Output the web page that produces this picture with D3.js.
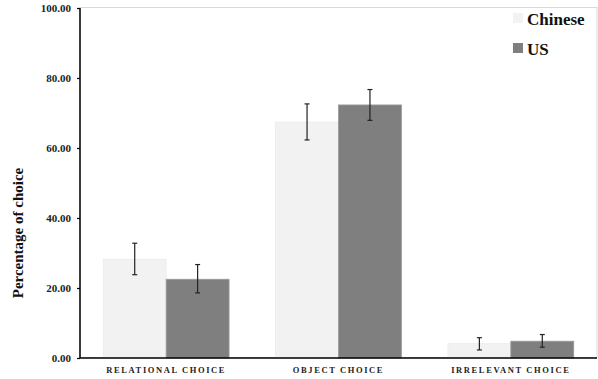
<!DOCTYPE html>
<html><head><meta charset="utf-8">
<script src="https://cdn.jsdelivr.net/npm/d3@7/dist/d3.min.js"></script>
<style>body{margin:0;background:#fff}svg{display:block}svg text{font-family:"Liberation Serif",serif !important;font-weight:bold}</style>
</head><body><svg id="c" width="598" height="379"></svg>
<script>
const categories = ["RELATIONAL CHOICE","OBJECT CHOICE","IRRELEVANT CHOICE"];
const seriesNames = ["Chinese","US"];
const chineseValues = [28.2, 67.4, 4.1];
const chineseErrLow = [23.8, 62.3, 2.3];
const chineseErrHigh = [32.8, 72.6, 5.8];
const usValues = [22.5, 72.3, 4.8];
const usErrLow = [18.6, 67.9, 3.1];
const usErrHigh = [26.7, 76.7, 6.7];
const yTicks = [0,20,40,60,80,100];

const colors = ["#f2f2f2","#7f7f7f"];
const svg = d3.select("#c");
const m = {l:80, r:1, t:8, b:21};
const W = 598, H = 379;
const x = d3.scaleBand().domain(categories).range([m.l, W-m.r]).paddingInner(0.27).paddingOuter(0.135);
const x1 = d3.scaleBand().domain(seriesNames).range([0, x.bandwidth()]);
const y = d3.scaleLinear().domain([0,100]).range([H-m.b, m.t]);

svg.append("rect").attr("x",m.l).attr("y",m.t-0.5).attr("width",W-m.r-m.l).attr("height",H-m.b-m.t)
  .attr("fill","none").attr("stroke","#d9d9d9").attr("stroke-width",1);

const series = [
  {name:"Chinese", v:chineseValues, lo:chineseErrLow, hi:chineseErrHigh, c:colors[0]},
  {name:"US", v:usValues, lo:usErrLow, hi:usErrHigh, c:colors[1]}
];
series.forEach(s=>{
  const g = svg.append("g");
  g.selectAll("rect").data(categories).join("rect")
    .attr("x",d=>x(d)+x1(s.name)).attr("width",x1.bandwidth())
    .attr("y",(d,i)=>y(s.v[i])).attr("height",(d,i)=>y(0)-y(s.v[i]))
    .attr("fill",s.c).attr("stroke", s.name==="US"?"#9a9a9a":"#ececec").attr("stroke-width",0.8);
});
series.forEach(s=>{
  const g = svg.append("g").attr("stroke","#222").attr("stroke-width",1.2);
  categories.forEach((d,i)=>{
    const cx = x(d)+x1(s.name)+x1.bandwidth()/2;
    g.append("line").attr("x1",cx).attr("x2",cx).attr("y1",y(s.lo[i])).attr("y2",y(s.hi[i]));
    g.append("line").attr("x1",cx-2.5).attr("x2",cx+2.5).attr("y1",y(s.lo[i])).attr("y2",y(s.lo[i]));
    g.append("line").attr("x1",cx-2.5).attr("x2",cx+2.5).attr("y1",y(s.hi[i])).attr("y2",y(s.hi[i]));
  });
});

const ya = svg.append("g").attr("transform",`translate(${m.l},0)`)
  .call(d3.axisLeft(y).tickValues(yTicks).tickFormat(d3.format(".2f")).tickSize(3).tickPadding(6));
ya.attr("font-family","Liberation Serif");
ya.select(".domain").attr("stroke","#000").attr("stroke-width",1.5).attr("d",`M0,${y(100)}V${y(0)}`);
ya.selectAll(".tick line").attr("stroke","#000").attr("stroke-width",1.2);
ya.selectAll("text").attr("font-size",11).attr("fill","#222");

svg.append("line").attr("x1",m.l).attr("x2",W-m.r).attr("y1",y(0)).attr("y2",y(0)).attr("stroke","#000").attr("stroke-width",1.5);
svg.append("g").selectAll("text").data(categories).join("text")
  .attr("x",d=>x(d)+x.bandwidth()/2).attr("y",373).attr("text-anchor","middle")
  .attr("font-size",8.5).attr("letter-spacing",1.6).attr("fill","#222").text(d=>d);

svg.append("text").attr("transform","translate(23,233) rotate(-90)").attr("text-anchor","middle")
  .attr("font-size",15).attr("fill","#111").text("Percentage of choice");

const lg = svg.append("g");
seriesNames.forEach((n,i)=>{
  const yy = 13 + i*30;
  lg.append("rect").attr("x",513).attr("y",yy).attr("width",10).attr("height",10).attr("fill",colors[i]);
  lg.append("text").attr("x",527).attr("y",yy+12).attr("font-size",17).attr("fill","#111").text(n);
});
</script></body></html>
